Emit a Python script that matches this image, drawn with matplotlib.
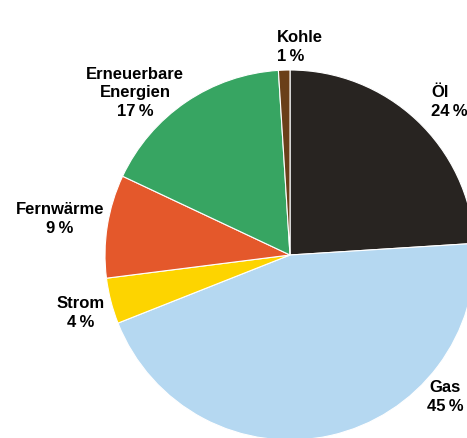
import matplotlib.pyplot as plt

# data (clockwise from 12 o'clock)
labels = ["Öl", "Gas", "Strom", "Fernwärme", "Erneuerbare\nEnergien", "Kohle"]
shares = [24, 45, 4, 9, 17, 1]
colors = ["#282421", "#b5d8f1", "#fdd400", "#e4582b", "#37a562", "#6a3f19"]

# label anchors in pixel coords (x, y from top) and alignment
label_pos = [(431, 102, "left"), (445, 397, "center"), (81, 313, "center"),
             (60, 219, "center"), (135, 93, "center"), (277, 47, "left")]

W, H = 467, 438
fig = plt.figure(figsize=(W / 100, H / 100), dpi=100)
ax = fig.add_axes([0, 0, 1, 1])

cx, cy, r = 290, H - 255, 185
ax.pie(shares, colors=colors, startangle=90, counterclock=False,
       center=(cx, cy), radius=r, frame=True,
       wedgeprops=dict(edgecolor="white", linewidth=0.8))
ax.set_xlim(0, W)
ax.set_ylim(0, H)
ax.set_aspect("equal")
ax.axis("off")

for lab, val, (x, y, ha) in zip(labels, shares, label_pos):
    ax.text(x, H - y, f"{lab}\n{val}\u2009%", ha=ha, va="center", ma=ha,
            fontsize=12, fontweight="bold", family="Liberation Sans",
            color="#000000", linespacing=1.3)

fig.savefig("out.png", dpi=100)
